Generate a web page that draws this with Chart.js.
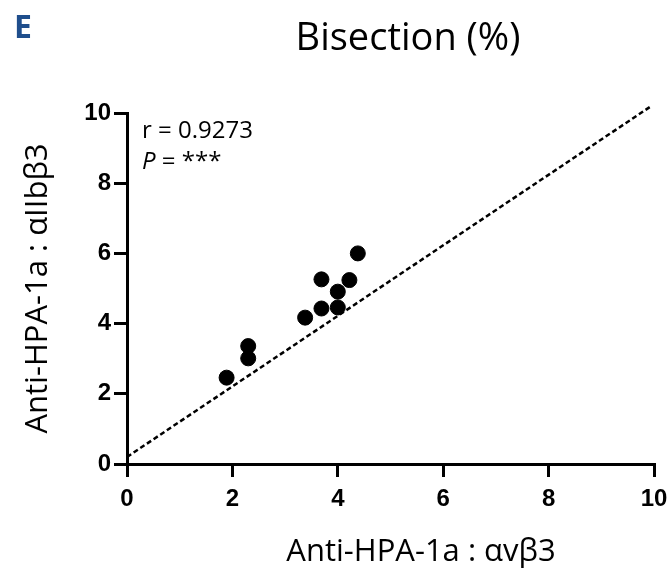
<!DOCTYPE html>
<html lang="en">
<head>
  <meta charset="utf-8" />
  <title>Bisection (%)</title>
  <script src="https://cdn.jsdelivr.net/npm/chart.js"></script>
  <style>
    html, body { margin: 0; padding: 0; background: #fff; }
    #wrap { width: 672px; height: 570px; }
  </style>
</head>
<body>
  <div id="wrap"><canvas id="chart" width="672" height="570"></canvas></div>

  <script>
    // values
    const xValues = [1.89, 2.30, 2.30, 3.38, 3.69, 3.69, 4.00, 4.00, 4.22, 4.38];
    const yValues = [2.46, 3.36, 3.01, 4.17, 4.43, 5.26, 4.91, 4.46, 5.24, 6.00];
    const refLineX = [0, 9.95];
    const refLineY = [0.2, 10.2];
    const tickValues = [0, 2, 4, 6, 8, 10];

    const panelLabel = 'E';
    const chartTitle = 'Bisection (%)';
    const xTitle = 'Anti-HPA-1a : αvβ3';
    const yTitle = 'Anti-HPA-1a : αIIbβ3';
    const rText = 'r = 0.9273';
    const pText = ' = ***';

    const textFont = "'Open Sans', 'Noto Sans', sans-serif";
    const tickFont = { family: "'Liberation Sans', Arial, sans-serif", size: 24, weight: 'bold' };

    const points = xValues.map((x, i) => ({ x, y: yValues[i] }));
    const refLine = refLineX.map((x, i) => ({ x, y: refLineY[i] }));

    const textPlugin = {
      id: 'texts',
      afterDraw(chart) {
        const ctx = chart.ctx;
        const area = chart.chartArea;
        ctx.save();
        ctx.fillStyle = '#1f4e8c';
        ctx.font = "bold 32px 'Open Sans', sans-serif";
        ctx.textAlign = 'left';
        ctx.textBaseline = 'alphabetic';
        ctx.fillText(panelLabel, 14, 38);

        ctx.fillStyle = '#000';
        ctx.font = '38px ' + textFont;
        ctx.textAlign = 'center';
        ctx.fillText(chartTitle, 408, 50);

        ctx.font = '31px ' + textFont;
        ctx.fillText(xTitle, 421, 561);

        ctx.save();
        ctx.translate(47, (area.top + area.bottom) / 2);
        ctx.rotate(-Math.PI / 2);
        ctx.fillText(yTitle, 0, 0);
        ctx.restore();

        ctx.textAlign = 'left';
        ctx.font = '24px ' + textFont;
        ctx.fillText(rText, 142, 138);
        ctx.font = 'italic 24px ' + textFont;
        ctx.fillText('P', 142, 169);
        const pw = ctx.measureText('P').width;
        ctx.font = '24px ' + textFont;
        ctx.fillText(pText, 142 + pw, 169);
        ctx.restore();
      }
    };

    const axisCommon = {
      type: 'linear',
      min: 0,
      max: 10,
      afterBuildTicks(scale) {
        scale.ticks = tickValues.map(v => ({ value: v }));
      },
      ticks: { color: '#000', font: tickFont, padding: 3 },
      grid: { drawOnChartArea: false, color: '#000', lineWidth: 3, tickLength: 13 },
      border: { color: '#000', width: 3 }
    };

    new Chart(document.getElementById('chart'), {
      type: 'scatter',
      data: {
        datasets: [
          {
            type: 'line',
            data: refLine,
            borderColor: '#000',
            borderWidth: 2.5,
            borderDash: [5, 3],
            pointRadius: 0,
            fill: false,
            clip: false
          },
          {
            data: points,
            backgroundColor: '#000',
            borderColor: '#000',
            pointRadius: 7.5,
            pointHoverRadius: 7.5
          }
        ]
      },
      options: {
        responsive: false,
        animation: false,
        events: [],
        layout: { padding: { top: 113, right: 18, left: 0, bottom: 0 } },
        plugins: {
          legend: { display: false },
          tooltip: { enabled: false }
        },
        scales: {
          x: Object.assign({}, axisCommon, {
            position: 'bottom',
            ticks: { color: '#000', font: tickFont, padding: 8 },
            afterFit(s) { s.height = 570 - 464; s.paddingLeft = 0; s.paddingRight = 0; }
          }),
          y: Object.assign({}, axisCommon, {
            position: 'left',
            afterFit(s) { s.width = 127; s.paddingTop = 0; s.paddingBottom = 0; }
          })
        }
      },
      plugins: [textPlugin]
    });
  </script>
</body>
</html>
